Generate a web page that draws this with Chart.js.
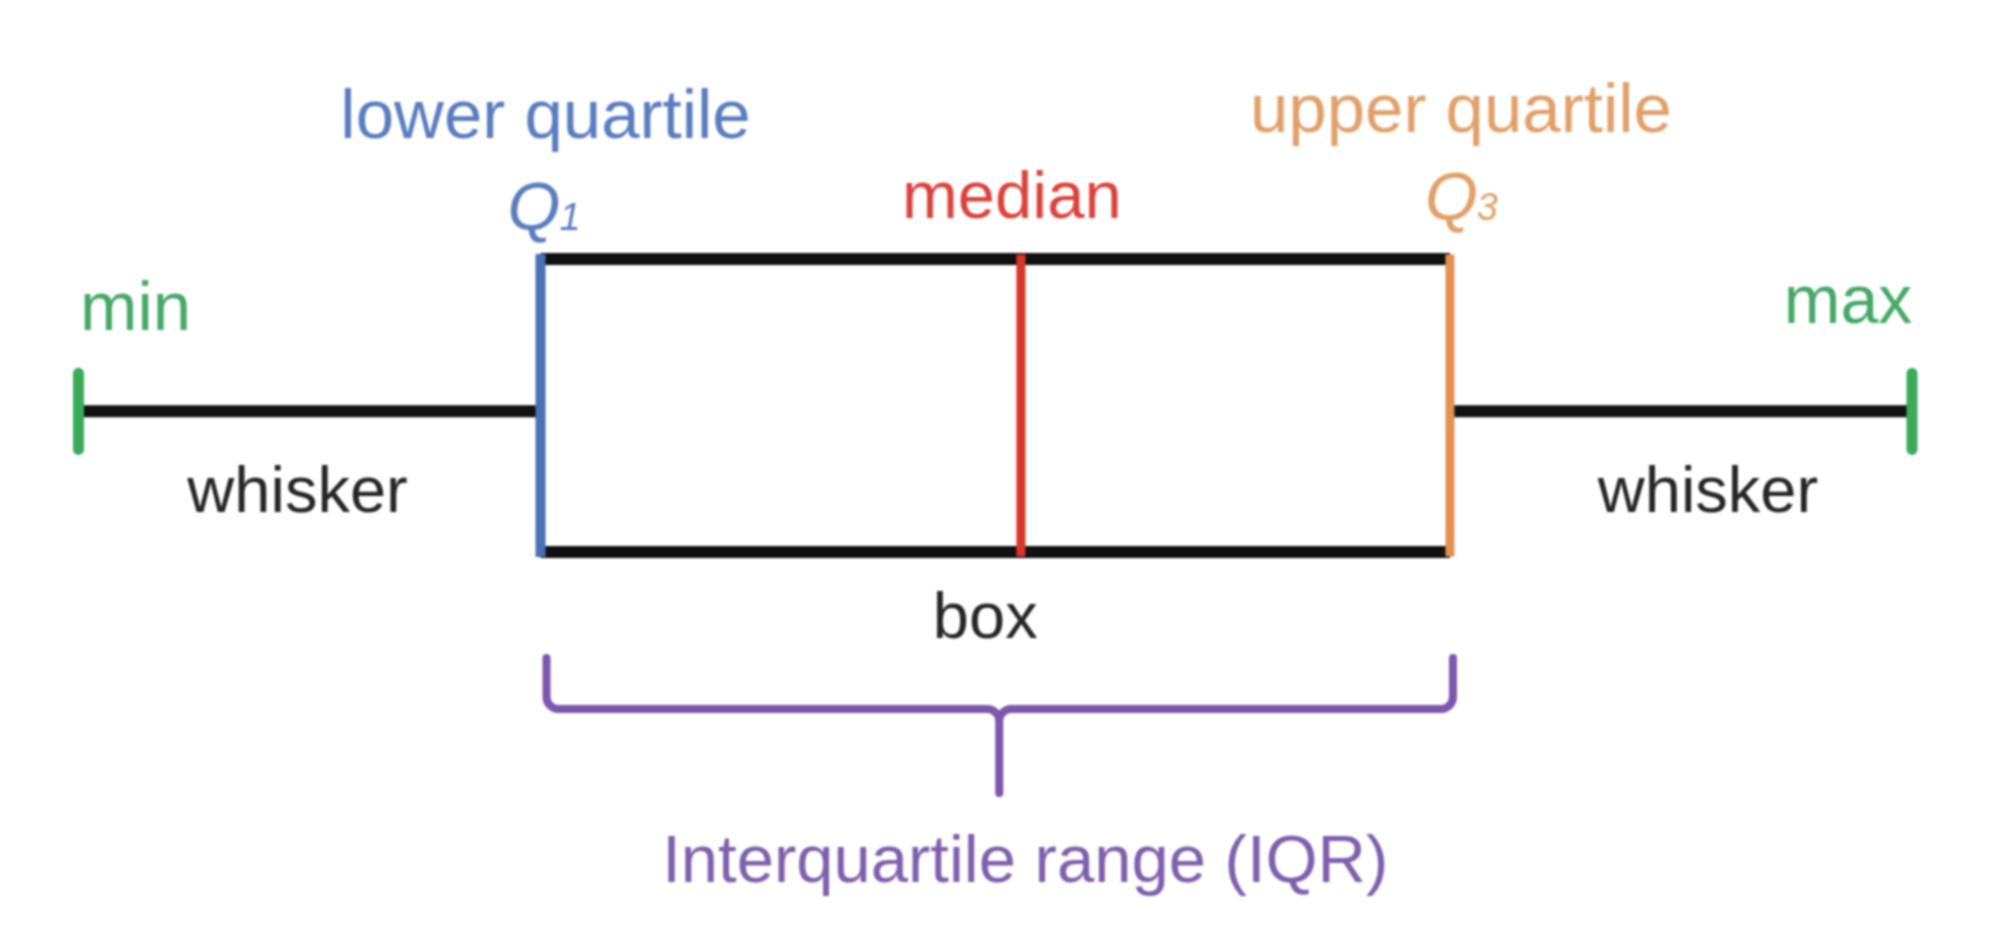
<!DOCTYPE html>
<html>
<head>
<meta charset="utf-8">
<script src="https://cdn.jsdelivr.net/npm/chart.js@4.4.1/dist/chart.umd.min.js"></script>
<style>
  html, body { margin: 0; padding: 0; background: #ffffff; }
  #wrap { width: 2000px; height: 950px; }
  canvas { display: block; filter: blur(0.8px); }
</style>
</head>
<body>
<div id="wrap"><canvas id="c" width="2000" height="950"></canvas></div>
<script>
// ---- data ----
const categories = ['min', 'Q1', 'median', 'Q3', 'max'];
const boxValues = [0, 25.2, 51.4, 74.8, 100];
const categoryNames = ['min', 'lower quartile', 'median', 'upper quartile', 'max'];
const partNames = ['whisker', 'box', 'whisker', 'Interquartile range (IQR)'];
const quartileSubscripts = ['1', '3'];

// ---- layout / style ----
const BOX_TOP = 1, BOX_BOTTOM = -1, WHISKER_Y = -0.04, TICK_HALF = 0.26;
const COLORS = {
  black: '#111111',
  text: '#262626',
  blue: '#4a70b6', blueText: '#5a7dbf',
  red: '#d8352b', redText: '#d9433b',
  orange: '#e39150', orangeText: '#e1a069',
  green: '#3aab5b', greenText: '#45a866',
  purple: '#7c57ab', purpleText: '#7d60ad'
};

const v = (name) => boxValues[categories.indexOf(name)];

function seg(x1, y1, x2, y2, color, width, cap, order) {
  return {
    data: [{x: x1, y: y1}, {x: x2, y: y2}],
    showLine: true, borderColor: color, backgroundColor: color,
    borderWidth: width, borderCapStyle: cap, pointRadius: 0, pointHoverRadius: 0,
    tension: 0, order: order, clip: false
  };
}

const datasets = [
  // colored markers (drawn on top: lower order)
  seg(v('Q1'), BOX_BOTTOM, v('Q1'), BOX_TOP, COLORS.blue, 10, 'square', 0),
  seg(v('median'), BOX_BOTTOM, v('median'), BOX_TOP, COLORS.red, 9, 'square', 0),
  seg(v('Q3'), BOX_BOTTOM, v('Q3'), BOX_TOP, COLORS.orange, 9, 'square', 0),
  seg(v('min'), WHISKER_Y - TICK_HALF, v('min'), WHISKER_Y + TICK_HALF, COLORS.green, 11, 'round', 0),
  seg(v('max'), WHISKER_Y - TICK_HALF, v('max'), WHISKER_Y + TICK_HALF, COLORS.green, 11, 'round', 0),
  // black structure
  seg(v('Q1'), BOX_TOP, v('Q3'), BOX_TOP, COLORS.black, 12, 'butt', 1),
  seg(v('Q1'), BOX_BOTTOM, v('Q3'), BOX_BOTTOM, COLORS.black, 12, 'butt', 1),
  seg(v('min'), WHISKER_Y, v('Q1'), WHISKER_Y, COLORS.black, 12, 'butt', 1),
  seg(v('Q3'), WHISKER_Y, v('max'), WHISKER_Y, COLORS.black, 12, 'butt', 1)
];

// text annotations: anchored to value(s) on the x scale, dx offset, baseline y in pixels
const FONT = '"Liberation Sans", Arial, sans-serif';
const labelSpecs = [
  {text: categoryNames[1], anchor: ['Q1'], dx: 5, y: 138, size: 69, color: COLORS.blueText},
  {text: categoryNames[2], anchor: ['median'], dx: -9, y: 218, size: 67, color: COLORS.redText},
  {text: categoryNames[3], anchor: ['Q3'], dx: 11, y: 132, size: 69, color: COLORS.orangeText},
  {text: categoryNames[0], anchor: ['min'], dx: 57, y: 330, size: 69, color: COLORS.greenText},
  {text: categoryNames[4], anchor: ['max'], dx: -64, y: 323, size: 68, color: COLORS.greenText},
  {text: partNames[0], anchor: ['min', 'Q1'], dx: -12, y: 512, size: 65, color: COLORS.text},
  {text: partNames[1], anchor: ['Q1', 'Q3'], dx: -10, y: 638, size: 65, color: COLORS.text},
  {text: partNames[2], anchor: ['Q3', 'max'], dx: 27, y: 512, size: 65, color: COLORS.text},
  {text: partNames[3], anchor: ['Q1', 'Q3'], dx: 30, y: 882, size: 67, color: COLORS.purpleText}
];
const quartileSpecs = [
  {sub: quartileSubscripts[0], anchor: 'Q1', dx: 4, y: 230, color: COLORS.blueText},
  {sub: quartileSubscripts[1], anchor: 'Q3', dx: 12, y: 220, color: COLORS.orangeText}
];

const annotationPlugin = {
  id: 'boxAnnotations',
  afterDatasetsDraw(chart) {
    const ctx = chart.ctx;
    const xs = chart.scales.x, ys = chart.scales.y;
    const px = (names) => names.reduce((s, n) => s + xs.getPixelForValue(v(n)), 0) / names.length;

    ctx.save();
    // brace under the box (interquartile range)
    const left = xs.getPixelForValue(v('Q1')) + 6;
    const right = xs.getPixelForValue(v('Q3')) + 3;
    const mid = (xs.getPixelForValue(v('Q1')) + xs.getPixelForValue(v('Q3'))) / 2 + 4;
    const boxBottomPx = ys.getPixelForValue(BOX_BOTTOM);
    const top = boxBottomPx + 106, hy = boxBottomPx + 157, bottom = boxBottomPx + 241, r = 12;
    ctx.strokeStyle = COLORS.purple;
    ctx.lineWidth = 8;
    ctx.lineCap = 'round';
    ctx.lineJoin = 'round';
    ctx.beginPath();
    ctx.moveTo(left, top);
    ctx.arcTo(left, hy, left + r, hy, r);
    ctx.lineTo(mid - r, hy);
    ctx.arcTo(mid, hy, mid, hy + r, r);
    ctx.lineTo(mid, bottom);
    ctx.moveTo(right, top);
    ctx.arcTo(right, hy, right - r, hy, r);
    ctx.lineTo(mid + r, hy);
    ctx.arcTo(mid, hy, mid, hy + r, r);
    ctx.stroke();

    // labels
    ctx.textBaseline = 'alphabetic';
    ctx.textAlign = 'center';
    labelSpecs.forEach(s => {
      ctx.font = s.size + 'px ' + FONT;
      ctx.fillStyle = s.color;
      ctx.fillText(s.text, px(s.anchor) + s.dx, s.y);
    });

    // Q1 / Q3 with subscripts
    ctx.textAlign = 'left';
    quartileSpecs.forEach(s => {
      const qFont = 'italic 68px ' + FONT;
      const subFont = 'italic 38px ' + FONT;
      ctx.font = qFont;
      const qw = ctx.measureText('Q').width;
      ctx.font = subFont;
      const sw = ctx.measureText(s.sub).width;
      const x0 = px([s.anchor]) + s.dx - (qw + sw) / 2;
      ctx.fillStyle = s.color;
      ctx.font = qFont;
      ctx.fillText('Q', x0, s.y);
      ctx.font = subFont;
      ctx.fillText(s.sub, x0 + qw - 1, s.y);
    });
    ctx.restore();
  }
};

new Chart(document.getElementById('c'), {
  type: 'scatter',
  data: { datasets },
  options: {
    responsive: false,
    devicePixelRatio: 1,
    animation: false,
    events: [],
    layout: { padding: 0 },
    plugins: { legend: { display: false }, tooltip: { enabled: false }, title: { display: false } },
    scales: {
      x: { type: 'linear', display: false, min: -4.281, max: 104.8 },
      y: { type: 'linear', display: false, min: -3.7167, max: 2.7679 }
    }
  },
  plugins: [annotationPlugin]
});
</script>
</body>
</html>
